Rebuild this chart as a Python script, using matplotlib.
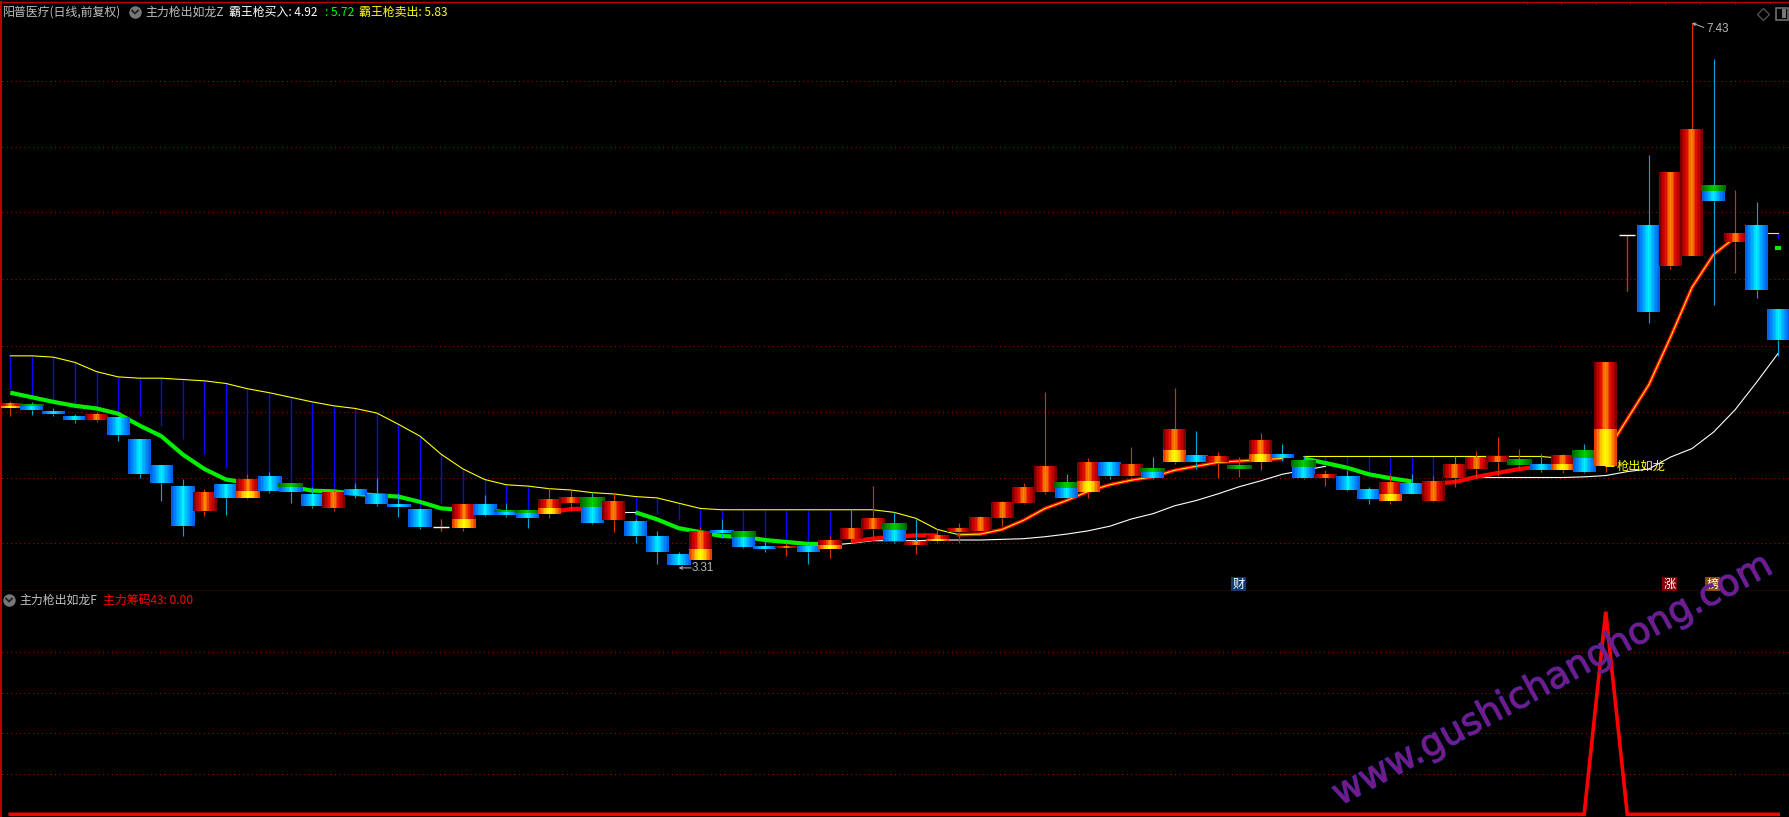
import numpy as np
import matplotlib
matplotlib.use('Agg')
import matplotlib.pyplot as plt
import matplotlib.patheffects as pe
from matplotlib.colors import LinearSegmentedColormap as LSC
from matplotlib.patches import Rectangle
from matplotlib.transforms import blended_transform_factory, IdentityTransform

plt.rcParams['font.family'] = ['Noto Sans CJK SC', 'DejaVu Sans']

# ---- candle data (price units)
kinds = list("ygbbrbbbbrbybgbrbbbbdybggyrgrbbbybgbrbyrrgryrrrrrgybrgybrGybgrbbybrrrrGbygydbrrgrbb")
body_top = [4.54,4.53,4.48,4.44,4.45,4.435,4.26,4.06,3.91,3.86,3.92,3.96,3.98,3.93,3.85,3.86,3.88,3.84,3.77,3.73,3.60,
            3.77,3.77,3.73,3.72,3.81,3.82,3.82,3.79,3.64,3.53,3.39,3.57,3.57,3.56,3.45,3.455,3.45,3.50,3.59,3.66,3.63,
            3.485,3.53,3.59,3.675,3.79,3.90,4.06,3.94,4.09,4.09,4.08,4.04,4.34,4.14,4.13,4.07,4.26,4.15,4.11,4.00,3.98,
            3.88,3.94,3.93,3.95,4.07,4.13,4.13,4.11,4.07,4.14,4.18,4.845,5.815,5.89,6.29,6.62,6.19,5.83,5.89,5.25]
body_bot = [4.50,4.49,4.46,4.41,4.41,4.30,4.00,3.93,3.61,3.72,3.82,3.82,3.87,3.865,3.76,3.74,3.84,3.77,3.75,3.60,3.60,
            3.59,3.69,3.69,3.67,3.70,3.78,3.63,3.65,3.53,3.41,3.31,3.35,3.55,3.45,3.43,3.44,3.41,3.43,3.51,3.58,3.49,
            3.46,3.49,3.56,3.57,3.67,3.78,3.865,3.82,3.865,3.99,3.99,3.97,4.09,4.09,4.09,4.04,4.09,4.12,3.97,3.97,3.88,
            3.81,3.80,3.85,3.80,3.97,4.04,4.09,4.07,4.03,4.03,4.02,4.06,5.815,5.23,5.58,5.66,6.08,5.765,5.40,5.02]
high = [4.56,4.55,4.50,4.46,4.475,4.435,4.26,4.06,3.96,3.89,3.92,4.00,4.02,3.93,3.90,3.88,3.93,3.97,3.86,3.74,3.66,
        3.77,3.84,3.78,3.73,3.895,3.88,3.865,3.86,3.66,3.57,3.41,3.60,3.66,3.57,3.50,3.48,3.47,3.53,3.73,3.91,3.71,
        3.66,3.58,3.63,3.68,3.80,3.93,4.625,4.00,4.12,4.09,4.21,4.13,4.655,4.33,4.17,4.13,4.31,4.23,4.14,4.03,4.03,
        3.90,4.00,4.00,3.99,4.14,4.18,4.28,4.19,4.15,4.15,4.23,4.85,5.82,6.43,6.29,7.43,7.16,6.16,6.07,5.25]
low = [4.44,4.45,4.44,4.39,4.40,4.25,3.97,3.80,3.53,3.68,3.69,3.81,3.86,3.78,3.74,3.72,3.82,3.76,3.675,3.58,3.57,
       3.57,3.68,3.675,3.59,3.67,3.72,3.62,3.56,3.48,3.32,3.31,3.35,3.515,3.44,3.41,3.38,3.32,3.36,3.48,3.51,3.48,
       3.39,3.48,3.48,3.57,3.61,3.77,3.85,3.815,3.82,3.96,3.98,3.96,4.08,4.04,3.97,3.98,4.035,4.10,3.96,3.91,3.87,
       3.77,3.77,3.85,3.79,3.90,3.97,3.99,4.04,4.02,4.01,4.01,4.02,5.39,5.15,5.56,5.66,5.29,5.53,5.34,4.90]
cyan_upper = [39, 42, 67]

# ---- indicator lines (start index, values)
yellow1 = [4.90,4.90,4.89,4.85,4.78,4.74,4.73,4.73,4.72,4.71,4.69,4.65,4.62,4.585,4.55,4.52,4.50,4.465,4.38,4.29,4.15,
           4.04,3.96,3.92,3.91,3.89,3.88,3.86,3.85,3.83,3.82,3.78,3.74,3.73,3.73,3.73,3.73,3.73,3.73,3.73,3.73,3.71,
           3.665,3.58,3.54]
yellow2 = [4.135,4.135,4.135,4.135,4.135,4.135,4.135,4.135,4.135,4.135,4.135,4.135,4.12]
yellow3 = [5.83, 5.83]
blue1 = [4.645,4.59,4.54,4.50,4.50,4.43,4.44,4.37,4.265,4.15,4.05,3.97,3.98,3.93,3.89,3.88,3.88,3.84,3.78,3.74,3.78,
         3.77,3.77,3.78,3.715]
blue2 = [3.66,3.70,3.65,3.59,3.66,3.555,3.45,3.475,3.475,3.525]
blue3 = [4.10,4.08,3.97,3.94,3.97,3.95]
blue4 = [5.79]
green1 = [4.62,4.585,4.55,4.52,4.50,4.46,4.37,4.29,4.15,4.04,3.96,3.935,3.92,3.905,3.875,3.87,3.85,3.84,3.83,3.79,3.74,
          3.73,3.73,3.71,3.71]
green2 = [3.71,3.657,3.59,3.56,3.53,3.525,3.50,3.485,3.47,3.47]
green3 = [4.12,4.085,4.05,4.00,3.97,3.945]
red1 = [3.71,3.735,3.74]
red2 = [3.49,3.51,3.525,3.535,3.535]
red3 = [3.93,3.94,3.98,4.01,4.04,4.06,4.06,4.07]
core1 = [3.54,3.545,3.58,3.65,3.74,3.80,3.87,3.92,3.955,3.98,4.03,4.06,4.09,4.10,4.11,4.12]
core2 = [4.16,4.42,4.68,5.04,5.42,5.67,5.80]
white1 = [3.71,3.71]
white2 = [3.46,3.475,3.495,3.495,3.495,3.50,3.50,3.50,3.505,3.51,3.525,3.545,3.57,3.605,3.66,3.70,3.76,3.80,3.85,3.905,
          3.95,4.00,4.03,4.06]
white3 = [3.92,3.95,3.975,3.975,3.975,3.975,3.975,3.98,3.99,4.02,4.04,4.13,4.195,4.32,4.49,4.70,4.92]
price_grid = [3.474,3.974,4.475,4.978,5.487,5.99,6.49,6.99]

# ---- lower panel
chips_peak_index = 74
chips_peak = 100
lower_grid = [20,40,60,80]

BUY, MID, SELL = 4.92, 5.72, 5.83
LOW_PRICE, HIGH_PRICE = 3.31, 7.43

W, H = 1790, 817
fig = plt.figure(figsize=(W/100, H/100), dpi=100, facecolor='black')
SPLIT = 591
L, T = 1.5, 1.5
ax = fig.add_axes([L/W, 1-SPLIT/H, 1-L/W, (SPLIT-T)/H], facecolor='black')
ax2 = fig.add_axes([L/W, 0, 1-L/W, 1-SPLIT/H], facecolor='black')

BORDER = '#b80000'
GRID = '#b00000'
DOT = (0, (1, 3.2))
XMIN, XMAX = (L-10.3)/21.56, (W-10.3)/21.56
for a in (ax, ax2):
    a.set_xticks([]); a.set_yticks([])
    for s in a.spines.values():
        s.set_visible(False)
    a.spines['left'].set_visible(True)
    a.spines['left'].set_color(BORDER)
    a.spines['left'].set_linewidth(1.5)
ax.spines['top'].set_visible(True); ax.spines['top'].set_color(BORDER); ax.spines['top'].set_linewidth(1)
ax.spines['bottom'].set_visible(True); ax.spines['bottom'].set_color(BORDER); ax.spines['bottom'].set_linewidth(1)

ax.hlines(price_grid, XMIN, XMAX, colors=GRID, linewidth=0.75, linestyles=[DOT], zorder=1)
ax2.hlines(lower_grid, XMIN, XMAX, colors=GRID, linewidth=0.75, linestyles=[DOT], zorder=1)

cm_blue = LSC.from_list('b', ['#00f4ff', '#00b8ff', '#0088ff', '#0060e8'])
cm_red = LSC.from_list('r', [(0, '#ff8800'), (.2, '#f06000'), (.42, '#e01000'), (.72, '#c00000'), (1, '#7a0000')])
cm_yel = LSC.from_list('y', [(0, '#ffff00'), (.4, '#ffd000'), (.75, '#ff7000'), (1, '#e84000')])
cm_grn = LSC.from_list('g', ['#00d000', '#006800'])
grad = np.abs(np.linspace(-1, 1, 15))[None, :]
BW = 23/21.56
CAPW = 25/21.56
DOJIW = 16/21.56
YF, GF = 0.35, 0.37


def seg(x0, bot, top, cmap, width, z):
    ax.imshow(grad, cmap=cmap, vmin=0, vmax=1, aspect='auto', interpolation='nearest',
              extent=[x0-width/2, x0+width/2, bot, top], zorder=z)


def line(a, start, vals, **kw):
    a.plot(np.arange(start, start+len(vals)), vals, **kw)


# blue verticals from the upper band down
for start, ends, band, bstart in [(0, blue1, yellow1, 0), (29, blue2, yellow1, 0), (61, blue3, yellow2, 60), (82, blue4, yellow3, 81)]:
    ix = np.arange(start, start+len(ends))
    ax.vlines(ix, ends, [band[i-bstart] for i in ix], colors='#0808ff', linewidth=1.0, zorder=2)

for vals, st in [(white1, 28), (white2, 38), (white3, 66)]:
    line(ax, st, vals, color='white', lw=0.8, zorder=3)
for vals, st in [(yellow1, 0), (yellow2, 60), (yellow3, 81)]:
    line(ax, st, vals, color='#ffff00', lw=0.8, zorder=3)
for vals, st in [(green1, 0), (green2, 29), (green3, 60)]:
    line(ax, st, vals, color='#00f000', lw=3.0, zorder=4, solid_capstyle='butt')
for vals, st in [(red1, 25), (red2, 39), (red3, 66)]:
    line(ax, st, vals, color='#ff0000', lw=3.0, zorder=4, solid_capstyle='butt')
for vals, st in [(core1, 44), (core2, 74)]:
    line(ax, st, vals, color='#ff0000', lw=2.6, zorder=4)
    line(ax, st, vals, color='#ffec00', lw=0.75, zorder=4.1)
ax.plot([82], [MID], marker='_', ms=5, mew=3, color='#00f000', zorder=4)

# candles
WICK_R, WICK_B = '#d83000', '#0aa0d8'
for i, k in enumerate(kinds):
    z = 6 + i*0.01
    wc = WICK_B if k in 'bg' else WICK_R
    top, bot = body_top[i], body_bot[i]
    ax.vlines(i, top, high[i], colors=WICK_B if i in cyan_upper else wc, linewidth=0.85, zorder=5)
    ax.vlines(i, low[i], bot, colors=wc, linewidth=0.85, zorder=5)
    h = top-bot
    if k == 'd':
        ax.vlines(i, low[i], high[i], colors=wc, linewidth=0.85, zorder=5)
        ax.hlines(top, i-DOJIW/2, i+DOJIW/2, colors='white', linewidth=1.0, zorder=z)
    elif k == 'b':
        seg(i, bot, top, cm_blue, BW, z)
    elif k == 'g':
        seg(i, bot, top-GF*h, cm_blue, BW, z)
        seg(i, top-GF*h, top, cm_grn, CAPW, z)
    elif k == 'G':
        seg(i, bot, top, cm_grn, CAPW, z)
    elif k == 'r':
        seg(i, bot, top, cm_red, BW, z)
    elif k == 'y':
        seg(i, bot+YF*h, top, cm_red, BW, z)
        seg(i, bot, bot+YF*h, cm_yel, BW, z)

ax.set_xlim(XMIN, XMAX)
ax.set_ylim(3.31-(SPLIT-565)/131.55, 3.31+(565-T)/131.55)

# lower panel line
chips = np.zeros(len(kinds))
chips[chips_peak_index] = chips_peak
ax2.plot(np.arange(len(chips)), chips, color='#ff0000', lw=2.6, zorder=3, solid_joinstyle='miter')
ax2.set_xlim(XMIN, XMAX)
ax2.set_ylim(-(817-814.3)/2.026, (814.3-591)/2.026)

# high / low labels
GREY = '#b8b8b8'
NUMFONT = ['Liberation Sans', 'DejaVu Sans']
ax.annotate('', xy=(31, LOW_PRICE-0.022), xytext=(9, 0), textcoords='offset points',
            arrowprops=dict(arrowstyle='->', color=GREY, lw=0.7, mutation_scale=5, shrinkA=0, shrinkB=0), zorder=20,
            annotation_clip=False)
ax.annotate(f'{LOW_PRICE:.2f}', xy=(31, LOW_PRICE), xytext=(9.5, -2.5), textcoords='offset points', color=GREY,
            fontsize=8.4, family=NUMFONT, va='center', ha='left', zorder=20)
ax.annotate('', xy=(78, HIGH_PRICE), xytext=(8.5, -3.2), textcoords='offset points',
            arrowprops=dict(arrowstyle='->', color=GREY, lw=0.7, mutation_scale=5, shrinkA=0, shrinkB=0), zorder=20)
ax.annotate(f'{HIGH_PRICE:.2f}', xy=(78, HIGH_PRICE), xytext=(10, -4), textcoords='offset points', color=GREY,
            fontsize=8.4, family=NUMFONT, va='center', ha='left', zorder=20)
ax.annotate('枪出如龙', xy=(74, 4.06), xytext=(8, 0), textcoords='offset points', color='#ffff00',
            fontsize=8.8, va='center', ha='left', zorder=20,
            arrowprops=dict(arrowstyle='-', color='#ffff00', lw=0.8, shrinkA=0, shrinkB=0))


def ptext(x, y, s, color, size=8.6, **kw):
    fig.text(x/W, 1-y/H, s, color=color, fontsize=size, va='center', ha=kw.pop('ha', 'left'), zorder=30, **kw)


def chev(x, y):
    fig.add_artist(plt.Line2D([x/W], [1-y/H], marker='o', ms=9, color='#777777', mew=0, transform=fig.transFigure))
    fig.add_artist(plt.Line2D([(x-3)/W, x/W, (x+3)/W], [1-(y-1.5)/H, 1-(y+1.5)/H, 1-(y-1.5)/H],
                              color='#222222', lw=1.3, transform=fig.transFigure))


ptext(3, 12, '阳普医疗(日线,前复权)', '#c0c0c0')
chev(135, 12)
ptext(145, 12, '主力枪出如龙Z', '#c0c0c0')
ptext(229, 12, f'霸王枪买入: {BUY:.2f}', '#ffffff')
ptext(325, 12, f': {MID:.2f}', '#00ff00')
ptext(359, 12, f'霸王枪卖出: {SELL:.2f}', '#ffff00')
chev(9, 600)
ptext(19, 600, '主力枪出如龙F', '#c0c0c0')
ptext(103, 600, f'主力筹码43: {0:.2f}', '#ff0000')

# event badges
for x, s, bg in [(1238.5, '财', '#123a70'), (1669.5, '涨', '#800000'), (1712.5, '榜', '#8a4a08')]:
    fig.text(x/W, 1-584/H, s, color='white', fontsize=8.8, ha='center', va='center', zorder=30,
             bbox=dict(boxstyle='square,pad=0.08', fc=bg, ec='none'))

# top-right chrome
ax.plot([1763/W], [1-12.6/SPLIT], marker='D', ms=6.5, mfc='none', mec='#555555', mew=0.9, transform=ax.transAxes, zorder=20)
ax.plot([1782/W], [1-12.6/SPLIT], marker='s', ms=8.5, mfc='none', mec='#777777', mew=1.1, transform=ax.transAxes, zorder=20)
ax.add_patch(Rectangle((1782/W, 1-17/SPLIT), 4/W, 9/SPLIT, fc='#777777', ec='none', transform=ax.transAxes, zorder=20))
ax.vlines([1527, 1560.5, 1595.6, 1630, 1665, 1700, 1735, 1770], 1-3/SPLIT, 1, colors=BORDER, linewidth=0.8,
          transform=blended_transform_factory(IdentityTransform(), ax.transAxes), zorder=20)

# watermark
fig.text(1340/W, 1-806/H, 'www.gushichanghong.com', color='#7c1a88', fontsize=26.5, family=['DejaVu Sans'],
         rotation=28.3, rotation_mode='anchor', ha='left', va='baseline', alpha=0.88, zorder=40,
         path_effects=[pe.withStroke(linewidth=0.9, foreground='#3030b0')])

fig.savefig('out.png', dpi=100, facecolor='black')
